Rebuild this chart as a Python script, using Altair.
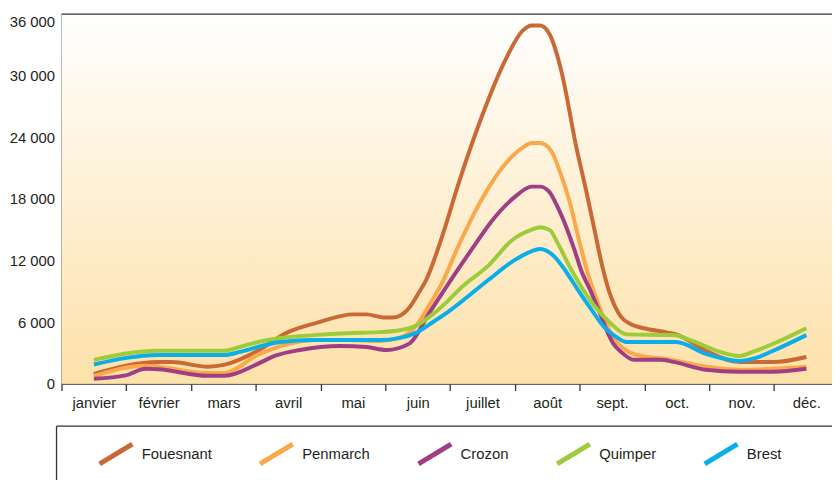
import altair as alt
import pandas as pd

months = ["janvier", "février", "mars", "avril", "mai", "juin",
          "juillet", "août", "sept.", "oct.", "nov.", "déc."]

series_names = ["Fouesnant", "Penmarch", "Crozon", "Quimper", "Brest"]
series_colors = ["#C96A36", "#FBA84A", "#9E3F86", "#9DCB3A", "#0AAEE9"]

# month position (0 = janvier ... 11 = décembre) and value
fouesnant_x = [0, 1.0, 1.2, 1.76, 2.02, 2.53, 2.99, 3.45, 4.01, 4.21, 4.47, 4.62, 4.87, 5.02, 5.13,
               5.39, 5.62, 6.0, 6.35, 6.62, 6.76, 6.89, 7.04, 7.22, 7.45, 7.60, 7.73, 7.85, 7.98, 8.13,
               8.29, 8.49, 8.84, 8.99, 9.45, 9.97, 10.48, 11]
fouesnant_y = [950, 2100, 2100, 1650, 1850, 3200, 5000, 5950, 6750, 6750, 6450, 6450, 7400, 8900, 10100,
               14600, 19300, 26200, 31500, 34400, 34900, 34900, 34000, 30400, 23000, 18820, 14960, 11420, 8520, 6590,
               5790, 5400, 5000, 4800, 3200, 2100, 2100, 2600]

penmarch_x = [0, 0.8, 1.0, 1.76, 2.02, 2.53, 2.88, 3.40, 3.90, 4.41, 4.71, 4.97, 5.23, 5.39, 5.62,
              6.0, 6.35, 6.62, 6.76, 6.89, 7.06, 7.19, 7.34, 7.49, 7.64, 7.78, 7.90, 8.04, 8.23, 8.45,
              8.84, 9.45, 9.97, 10.48, 11]
penmarch_y = [750, 1750, 1650, 1050, 1050, 2800, 3650, 4250, 4250, 4150, 4450, 5600, 8200, 10000, 13300,
              18100, 21400, 23000, 23450, 23450, 22680, 20750, 17850, 13990, 10450, 7910, 5980, 4350, 3200, 2700,
              2400, 1650, 1350, 1450, 1650]

crozon_x = [0, 0.49, 0.8, 1.0, 1.76, 2.02, 2.53, 2.79, 3.18, 3.80, 4.21, 4.52, 4.87, 5.18, 5.48,
            5.89, 6.15, 6.5, 6.76, 6.89, 7.04, 7.11, 7.27, 7.42, 7.52, 7.68, 7.83, 7.93, 8.02, 8.14,
            8.34, 8.75, 8.95, 9.45, 9.97, 10.48, 11]
crozon_y = [480, 800, 1450, 1400, 770, 770, 1930, 2700, 3280, 3670, 3570, 3280, 3900, 6900, 9800,
            13600, 15900, 18200, 19200, 19200, 18620, 17850, 15630, 13030, 11100, 8880, 6590, 5020, 3900, 3090,
            2320, 2320, 2120, 1350, 1160, 1160, 1450]

quimper_x = [0, 1.0, 2.02, 2.25, 2.53, 2.88, 3.40, 3.90, 4.41, 4.67, 4.97, 5.23, 5.43, 5.69, 6.09,
             6.46, 6.76, 6.89, 7.04, 7.16, 7.37, 7.52, 7.73, 7.96, 8.23, 8.95, 9.25, 9.67, 9.97, 10.17,
             10.48, 11]
quimper_y = [2320, 3210, 3210, 3570, 4050, 4440, 4730, 4920, 5020, 5150, 5630, 6750, 7850, 9460, 11500,
             14000, 15000, 15250, 14960, 13700, 11100, 9490, 7560, 5980, 4800, 4730, 4150, 3090, 2700, 3090,
             3860, 5400]

brest_x = [0, 1.0, 2.02, 2.25, 2.53, 2.88, 3.40, 4.41, 4.71, 4.97, 5.23, 5.48, 6.09, 6.5, 6.70,
           6.89, 7.11, 7.27, 7.47, 7.68, 7.88, 8.04, 8.23, 8.99, 9.45, 9.97, 10.22, 10.48, 11]
brest_y = [1870, 2800, 2800, 3090, 3570, 4050, 4250, 4250, 4440, 4950, 5980, 7050, 10100, 12060, 12740,
           13120, 12380, 11100, 9170, 7240, 5500, 4660, 4050, 4050, 2900, 2220, 2510, 3185, 4730]

y_ticks = [0, 6000, 12000, 18000, 24000, 30000, 36000]

xs = [fouesnant_x, penmarch_x, crozon_x, quimper_x, brest_x]
ys = [fouesnant_y, penmarch_y, crozon_y, quimper_y, brest_y]
rows = []
for name, xv, yv in zip(series_names, xs, ys):
    for i, (a, b) in enumerate(zip(xv, yv)):
        rows.append({"ville": name, "mois": a, "valeur": b, "i": i})
df = pd.DataFrame(rows)

W, H = 778, 373
PX = W / 11.896
FONT = "Arial"
TXT = "#231F20"

month_expr = "[" + ",".join("'" + m + "'" for m in months) + "][datum.value]"

bg = alt.Chart(alt.Data(values=[{}])).mark_rect(
    fill=alt.Gradient(gradient="linear",
                      stops=[alt.GradientStop(color="#FFFFFF", offset=0),
                             alt.GradientStop(color="#FDE1A9", offset=1)],
                      x1=0, x2=0, y1=0, y2=1)
).encode(x=alt.value(0), x2=alt.value(W), y=alt.value(0), y2=alt.value(H))

lines = alt.Chart(df).mark_line(strokeWidth=4, interpolate="monotone").encode(
    x=alt.X("mois:Q",
            scale=alt.Scale(domain=[-0.5, 11.396], nice=False, zero=False),
            axis=alt.Axis(values=list(range(12)), labelExpr=month_expr,
                          tickOffset=-PX / 2, labelOffset=PX / 2,
                          grid=False, title=None, tickSize=7, labelPadding=5,
                          labelFlush=False, labelOverlap=False,
                          labelFont=FONT, labelFontSize=15, labelColor=TXT,
                          domainColor="#333333", tickColor="#333333",
                          domainWidth=1.3, tickWidth=1.3)),
    y=alt.Y("valeur:Q",
            scale=alt.Scale(domain=[0, 36000], nice=False),
            axis=alt.Axis(values=y_ticks, ticks=False, labelPadding=7, grid=False, title=None,
                          labelExpr="replace(format(datum.value, ','), ',', ' ')",
                          labelBaseline={"condition": {"test": "datum.value >= 36000", "value": "top"},
                                         "value": "middle"},
                          labelFont=FONT, labelFontSize=15, labelColor=TXT,
                          domainColor="#333333", domainWidth=1.3)),
    color=alt.Color("ville:N",
                    scale=alt.Scale(domain=series_names, range=series_colors),
                    legend=alt.Legend(orient="none", legendX=36, legendY=425,
                                      direction="horizontal", columns=5, title=None,
                                      symbolType="M-1,0.6L1,-0.6", symbolSize=1089,
                                      symbolStrokeWidth=5, labelFont=FONT, labelFontSize=15,
                                      labelColor=TXT, columnPadding=38, labelOffset=7)),
    order="i:Q",
)

one = alt.Data(values=[{}])
top_border = alt.Chart(one).mark_rule(color="#333333", strokeWidth=1.3).encode(
    x=alt.value(0), x2=alt.value(W + 20), y=alt.value(0))
box_top = alt.Chart(one).mark_rule(color="#333333", strokeWidth=1.3).encode(
    x=alt.value(-5), x2=alt.value(W + 20), y=alt.value(416))
box_left = alt.Chart(one).mark_rule(color="#333333", strokeWidth=1.3).encode(
    x=alt.value(-5), y=alt.value(416), y2=alt.value(480))

chart = alt.layer(bg, lines, top_border, box_top, box_left).properties(
    width=W, height=H,
    autosize=alt.AutoSizeParams(type="none"),
    padding={"left": 54, "top": 4, "right": 0, "bottom": 95},
).configure_view(stroke=None)

chart.save("out.html", embed_options={"renderer": "svg", "actions": False})
